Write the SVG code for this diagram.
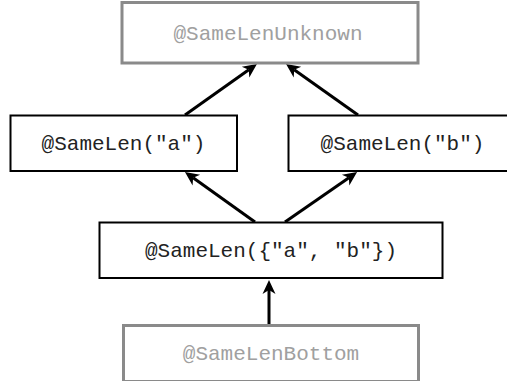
<svg xmlns="http://www.w3.org/2000/svg" width="507" height="381" viewBox="0 0 507 381">
  <style>
    .box { fill: #ffffff; stroke: #000000; stroke-width: 2; }
    .box-muted { fill: #ffffff; stroke: #8a8a8a; stroke-width: 3; }
    .label { font-family: "Liberation Mono", "Courier New", monospace; font-size: 21px; text-anchor: middle; fill: #222222; }
    .label-muted { fill: #a0a0a0; }
    .edge { stroke: #000000; stroke-width: 3; fill: none; marker-end: url(#arrow); }
  </style>
  <defs>
    <marker id="arrow" markerUnits="userSpaceOnUse" markerWidth="14" markerHeight="13" refX="4" refY="6.5" orient="auto" overflow="visible">
      <path d="M0,0 L14,6.5 L0,13 L4,6.5 z" fill="#000000"/>
    </marker>
  </defs>
  <rect width="507" height="381" fill="#ffffff"/>

  <g id="edges">
    <line class="edge" x1="185" y1="115" x2="248.8" y2="69.8"/>
    <line class="edge" x1="358" y1="115" x2="294.2" y2="69.8"/>
    <line class="edge" x1="255" y1="222" x2="193.1" y2="177.8"/>
    <line class="edge" x1="285" y1="222" x2="348.9" y2="177.8"/>
    <line class="edge" x1="269" y1="325" x2="269" y2="290"/>
  </g>

  <g id="same-len-unknown">
    <rect class="box-muted" x="122" y="2.5" width="296" height="60.5"/>
    <text class="label label-muted" x="268" y="39.5">@SameLenUnknown</text>
  </g>

  <g id="same-len-a">
    <rect class="box" x="10.5" y="115.5" width="226.5" height="55.5"/>
    <text class="label" x="123.5" y="149.5">@SameLen("a")</text>
  </g>

  <g id="same-len-b">
    <rect class="box" x="288.5" y="115.5" width="229" height="55.5"/>
    <text class="label" x="402.5" y="149.5">@SameLen("b")</text>
  </g>

  <g id="same-len-ab">
    <rect class="box" x="99.5" y="222.5" width="343" height="55.5"/>
    <text class="label" x="271" y="256.5">@SameLen({"a", "b"})</text>
  </g>

  <g id="same-len-bottom">
    <rect class="box-muted" x="123.5" y="325.5" width="295" height="56"/>
    <text class="label label-muted" x="271" y="360">@SameLenBottom</text>
  </g>
</svg>
